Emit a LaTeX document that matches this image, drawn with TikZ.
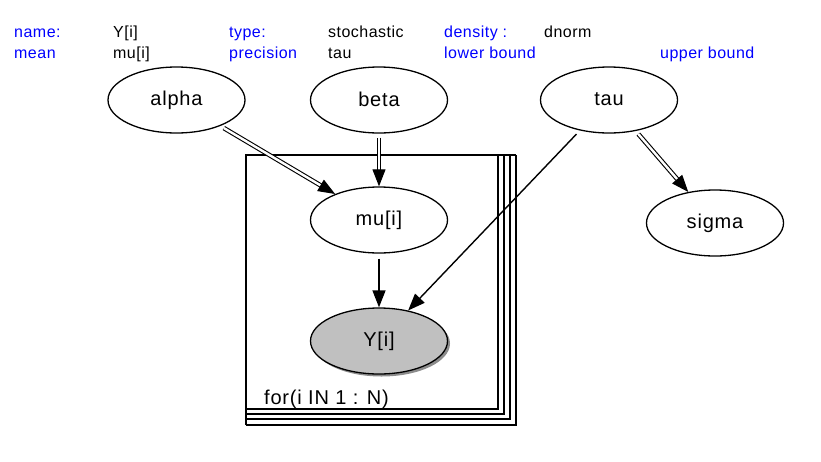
\documentclass[tikz,border=0pt]{standalone}
\usepackage{fontspec}
\setmainfont{Liberation Sans}
\newfontfamily\nodefont[LetterSpace=4]{Liberation Sans}
\newfontfamily\hdrfont[LetterSpace=3]{Liberation Sans}
\usetikzlibrary{arrows.meta,shapes.geometric,shadows}
\definecolor{lblblue}{RGB}{0,0,255}
\definecolor{obsgray}{RGB}{192,192,192}
\begin{document}
\begin{tikzpicture}[x=1pt,y=-1pt,
  var/.style={ellipse,draw,line width=1.3pt,minimum width=137pt,minimum height=66pt,inner sep=0pt,font=\nodefont\fontsize{20}{22}\selectfont},
  obs/.style={var,fill=obsgray,drop shadow={shadow xshift=2.5pt,shadow yshift=-2.5pt,fill=black!45,opacity=1}},
  hdr/.style={anchor=base west,inner sep=0pt,font=\hdrfont\fontsize{16}{18}\selectfont,text=lblblue},
  val/.style={anchor=base west,inner sep=0pt,font=\hdrfont\fontsize{16}{18}\selectfont},
  tip/.style={-{Triangle[length=17pt,width=13pt]}},
  sngl/.style={tip,line width=1.4pt,shorten <=5pt},
  dbl/.style={tip,double,double distance=2.4pt,line width=1.1pt,shorten <=4pt},
  platethick/.style={line width=2pt},
  platethin/.style={line width=1.3pt}
]
\useasboundingbox (0,0) rectangle (821,461);
\fill[white] (0,0) rectangle (821,461);

% header texts
\node[hdr] (h1) at (14,37) {name:};
\node[val] (v1) at (113,37) {Y[i]};
\node[hdr] (h2) at (229,37) {type:};
\node[val] (v2) at (328,37) {stochastic};
\node[hdr] (h3) at (444,37) {density :};
\node[val] (v3) at (544,37) {dnorm};
\node[hdr] (h4) at (14,58) {mean};
\node[val] (v4) at (113,58) {mu[i]};
\node[hdr] (h5) at (229,58) {precision};
\node[val] (v5) at (328,58) {tau};
\node[hdr] (h6) at (444,58) {lower bound};
\node[hdr] (h7) at (660,58) {upper bound};

% plate
\draw[platethin] (504,155) -- (504,414) -- (246,414);
\draw[platethin] (510,155) -- (510,419) -- (246,419);
\draw[platethin] (516,155) -- (516,425) -- (246,425);
\draw[platethin] (498,155) -- (516,155);
\draw[platethick] (246,425) -- (246,155) -- (498,155) -- (498,409) -- (246,409);
\node[anchor=base west,inner sep=0pt,font=\nodefont\fontsize{20}{22}\selectfont] (plate) at (264,404) {for(i IN 1 : N)};

% nodes
\node[var] (alpha) at (176.5,100) {\raisebox{2pt}{alpha}};
\node[var] (beta) at (379,100) {\raisebox{2pt}{beta}};
\node[var] (tau) at (609,100) {\raisebox{2pt}{tau}};
\node[var] (mu) at (379,220) {\raisebox{1pt}{mu[i]}};
\node[var] (sigma) at (715,223) {\raisebox{2pt}{sigma}};
\node[obs] (Y) at (379,341) {Y[i]};

% edges
\draw[dbl] (alpha) -- (mu);
\draw[dbl] (beta) -- (mu);
\draw[dbl] (tau) -- (sigma);
\draw[sngl] (tau) -- (Y);
\draw[sngl] (mu) -- (Y);
\end{tikzpicture}
\end{document}
